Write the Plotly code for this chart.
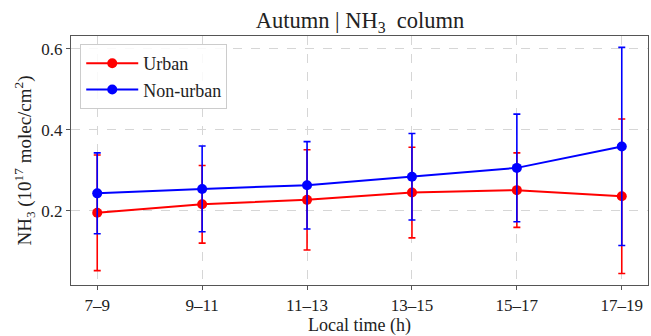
import plotly.graph_objects as go

periods = ["7–9", "9–11", "11–13", "13–15", "15–17", "17–19"]
urban_mean = [0.195, 0.216, 0.227, 0.245, 0.251, 0.236]
urban_std = [0.143, 0.096, 0.124, 0.112, 0.092, 0.191]
nonurban_mean = [0.243, 0.254, 0.263, 0.284, 0.306, 0.359]
nonurban_std = [0.100, 0.106, 0.108, 0.107, 0.133, 0.245]
yticks = [0.2, 0.4, 0.6]

xs = list(range(len(periods)))
FONT = "Liberation Serif, Times New Roman, serif"

fig = go.Figure()
for name, mean, std, color in [
    ("Urban", urban_mean, urban_std, "#ff0000"),
    ("Non-urban", nonurban_mean, nonurban_std, "#0000ff"),
]:
    fig.add_trace(go.Scatter(
        x=xs, y=mean, name=name, mode="lines+markers",
        line=dict(color=color, width=2),
        marker=dict(color=color, size=10),
        error_y=dict(type="data", array=std, visible=True,
                     color=color, thickness=1.6, width=3.5),
    ))

axis_common = dict(
    showline=True, mirror=True, linecolor="#555555", linewidth=1.3,
    ticks="outside", ticklen=4, tickcolor="#555555", tickwidth=1,
    showgrid=True, gridcolor="#d6d6d6", griddash="dash", gridwidth=0.8,
    zeroline=False, tickfont=dict(family=FONT, size=17, color="#222222"),
)

fig.update_layout(
    width=651, height=336,
    margin=dict(l=71, r=3, t=36, b=51),
    paper_bgcolor="white", plot_bgcolor="white",
    font=dict(family=FONT, color="#222222"),
    title=dict(text="Autumn | NH<sub>3</sub>\u00a0 column", x=0.553, xanchor="center",
               y=0.94, yanchor="middle", font=dict(family=FONT, size=22.5, color="#222222")),
    xaxis=dict(axis_common, tickmode="array", tickvals=xs, ticktext=periods,
               range=[-0.25, 5.25],
               title=dict(text="Local time (h)", standoff=2,
                          font=dict(family=FONT, size=18, color="#222222"))),
    yaxis=dict(axis_common, tickmode="array", tickvals=yticks,
               ticktext=[f"{v:.1f}" for v in yticks],
               range=[0.0165, 0.632],
               title=dict(text="NH<sub>3</sub> (10<sup>17</sup> molec/cm<sup>2</sup>)", standoff=4,
                          font=dict(family=FONT, size=19, color="#222222"))),
    legend=dict(x=0.016, y=0.968, xanchor="left", yanchor="top",
                bgcolor="rgba(255,255,255,0.85)", bordercolor="#cccccc", borderwidth=1,
                font=dict(family=FONT, size=18, color="#222222"),
                tracegroupgap=2, itemwidth=52),
    showlegend=True,
)

fig.write_html("out.html")
